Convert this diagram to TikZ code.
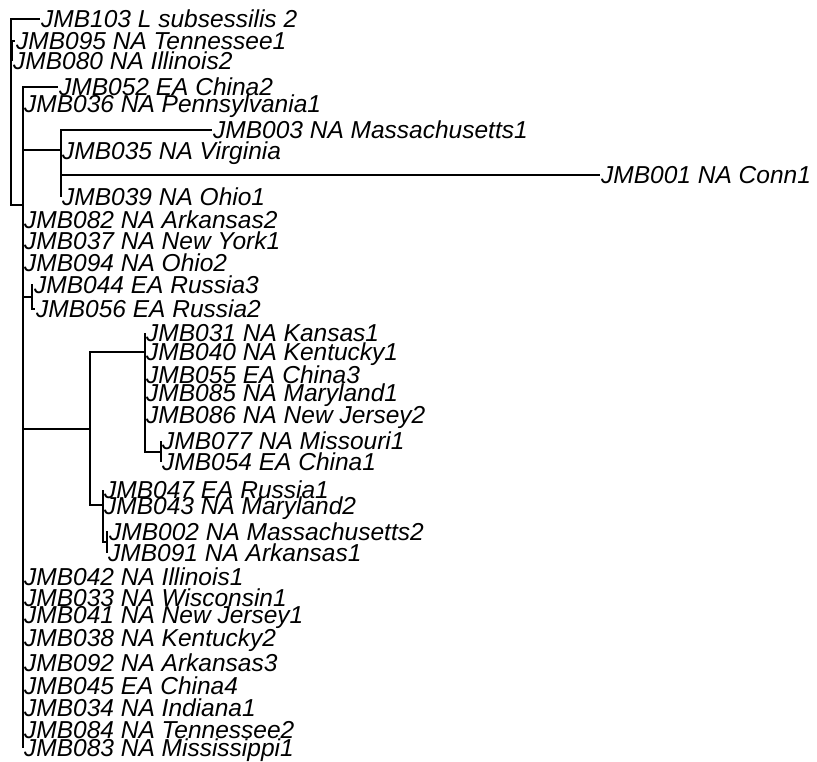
\documentclass[tikz,border=0pt]{standalone}
\usepackage{fontspec}
\setmainfont{Liberation Sans}
\usepackage{tikz}

\begin{document}
\begin{tikzpicture}[x=1pt,y=-1pt,
tip/.style={anchor=west,inner xsep=1pt,inner ysep=0pt,text height=17.5pt,text depth=0pt,font=\fontsize{24.5}{24.5}\selectfont\itshape},
branch/.style={line width=1.2pt,draw=black}]
\useasboundingbox (0,0) rectangle (817,761);
% inner nodes
\coordinate (root) at (11,112);
\coordinate (c095) at (12,51);
\coordinate (main) at (23,205);
\coordinate (c003) at (61,150);
\coordinate (c044) at (32,297);
\coordinate (c090) at (90,429);
\coordinate (c031) at (145,352);
\coordinate (c077) at (161,452);
\coordinate (c047) at (103,505);
\coordinate (c002) at (107,542);
% leaves
\node[tip] (j103) at (40,19) {JMB103 L subsessilis 2};
\node[tip] (j095) at (15,41) {JMB095 NA Tennessee1};
\node[tip] (j080) at (12,61) {JMB080 NA Illinois2};
\node[tip] (j052) at (58,87) {JMB052 EA China2};
\node[tip] (j036) at (23,104) {JMB036 NA Pennsylvania1};
\node[tip] (j003) at (212,130) {JMB003 NA Massachusetts1};
\node[tip] (j035) at (61,151) {JMB035 NA Virginia};
\node[tip] (j001) at (600,175) {JMB001 NA Conn1};
\node[tip] (j039) at (61,197) {JMB039 NA Ohio1};
\node[tip] (j082) at (23,220) {JMB082 NA Arkansas2};
\node[tip] (j037) at (23,241) {JMB037 NA New York1};
\node[tip] (j094) at (23,263) {JMB094 NA Ohio2};
\node[tip] (j044) at (33,285) {JMB044 EA Russia3};
\node[tip] (j056) at (35,309) {JMB056 EA Russia2};
\node[tip] (j031) at (145,333) {JMB031 NA Kansas1};
\node[tip] (j040) at (145,352) {JMB040 NA Kentucky1};
\node[tip] (j055) at (145,375) {JMB055 EA China3};
\node[tip] (j085) at (145,393) {JMB085 NA Maryland1};
\node[tip] (j086) at (145,415) {JMB086 NA New Jersey2};
\node[tip] (j077) at (161,441) {JMB077 NA Missouri1};
\node[tip] (j054) at (161,462) {JMB054 EA China1};
\node[tip] (j047) at (103,490) {JMB047 EA Russia1};
\node[tip] (j043) at (103,506) {JMB043 NA Maryland2};
\node[tip] (j002) at (108,532) {JMB002 NA Massachusetts2};
\node[tip] (j091) at (107,553) {JMB091 NA Arkansas1};
\node[tip] (j042) at (23,577) {JMB042 NA Illinois1};
\node[tip] (j033) at (23,598) {JMB033 NA Wisconsin1};
\node[tip] (j041) at (23,615) {JMB041 NA New Jersey1};
\node[tip] (j038) at (23,638) {JMB038 NA Kentucky2};
\node[tip] (j092) at (23,663) {JMB092 NA Arkansas3};
\node[tip] (j045) at (23,686) {JMB045 EA China4};
\node[tip] (j034) at (23,708) {JMB034 NA Indiana1};
\node[tip] (j084) at (23,730) {JMB084 NA Tennessee2};
\node[tip] (j083) at (23,748) {JMB083 NA Mississippi1};
% branches
\draw[branch] (root) |- (j103) (root) |- (c095) (root) |- (main);
\draw[branch] (c095) |- (j095) (c095) |- (j080);
\draw[branch] (main) |- (j052) (main) |- (j036) (main) |- (c003) (main) |- (j082) (main) |- (j037);
\draw[branch] (main) |- (j094) (main) |- (c044) (main) |- (c090) (main) |- (j042) (main) |- (j033);
\draw[branch] (main) |- (j041) (main) |- (j038) (main) |- (j092) (main) |- (j045) (main) |- (j034);
\draw[branch] (main) |- (j084) (main) |- (j083);
\draw[branch] (c003) |- (j003) (c003) |- (j035) (c003) |- (j001) (c003) |- (j039);
\draw[branch] (c044) |- (j044) (c044) |- (j056);
\draw[branch] (c090) |- (c031) (c090) |- (c047);
\draw[branch] (c031) |- (j031) (c031) |- (j040) (c031) |- (j055) (c031) |- (j085) (c031) |- (j086) (c031) |- (c077);
\draw[branch] (c077) |- (j077) (c077) |- (j054);
\draw[branch] (c047) |- (j047) (c047) |- (j043) (c047) |- (c002);
\draw[branch] (c002) |- (j002) (c002) |- (j091);
\end{tikzpicture}
\end{document}
